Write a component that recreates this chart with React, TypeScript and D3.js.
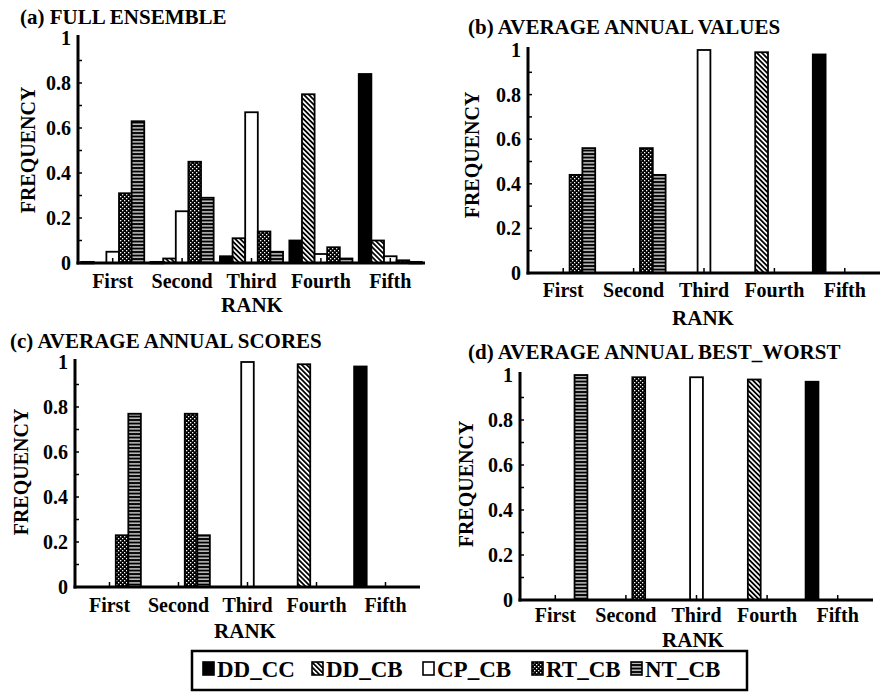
import React from "react";
import * as d3 from "d3";

// ---------- data ----------
const ranks = ["First", "Second", "Third", "Fourth", "Fifth"];
const seriesNames = ["DD_CC", "DD_CB", "CP_CB", "RT_CB", "NT_CB"];
const yTicks = [0, 0.2, 0.4, 0.6, 0.8, 1];
const yTickLabels = ["0", "0.2", "0.4", "0.6", "0.8", "1"];

// (a) FULL ENSEMBLE
const fullDDCC = [0.005, 0.005, 0.03, 0.1, 0.84];
const fullDDCB = [0, 0.02, 0.11, 0.75, 0.1];
const fullCPCB = [0.05, 0.23, 0.67, 0.04, 0.03];
const fullRTCB = [0.31, 0.45, 0.14, 0.07, 0.012];
const fullNTCB = [0.63, 0.29, 0.05, 0.02, 0.005];

// (b) AVERAGE ANNUAL VALUES
const valDDCC = [0, 0, 0, 0, 0.98];
const valDDCB = [0, 0, 0, 0.99, 0];
const valCPCB = [0, 0, 1.0, 0, 0];
const valRTCB = [0.44, 0.56, 0, 0, 0];
const valNTCB = [0.56, 0.44, 0, 0, 0];

// (c) AVERAGE ANNUAL SCORES
const scoDDCC = [0, 0, 0, 0, 0.98];
const scoDDCB = [0, 0, 0, 0.99, 0];
const scoCPCB = [0, 0, 1.0, 0, 0];
const scoRTCB = [0.23, 0.77, 0, 0, 0];
const scoNTCB = [0.77, 0.23, 0, 0, 0];

// (d) AVERAGE ANNUAL BEST_WORST
const bwDDCC = [0, 0, 0, 0, 0.97];
const bwDDCB = [0, 0, 0, 0.98, 0];
const bwCPCB = [0, 0, 0.99, 0, 0];
const bwRTCB = [0, 0.99, 0, 0, 0];
const bwNTCB = [1.0, 0, 0, 0, 0];

const titles = [
  "(a) FULL ENSEMBLE",
  "(b) AVERAGE ANNUAL VALUES",
  "(c) AVERAGE ANNUAL SCORES",
  "(d) AVERAGE ANNUAL BEST_WORST",
];

const panelData = [
  [fullDDCC, fullDDCB, fullCPCB, fullRTCB, fullNTCB],
  [valDDCC, valDDCB, valCPCB, valRTCB, valNTCB],
  [scoDDCC, scoDDCB, scoCPCB, scoRTCB, scoNTCB],
  [bwDDCC, bwDDCB, bwCPCB, bwRTCB, bwNTCB],
];

// ---------- layout ----------
const W = 884;
const H = 692;
const FONT = "'Liberation Serif', 'Times New Roman', serif";

const layouts = [
  { x0: 78, x1: 425, y0: 263, y1: 38, tx: 20, ty: 24, ly: 288, rx: 252, ry: 312, fx: 35, fy: 150 },
  { x0: 528, x1: 880, y0: 273, y1: 50, tx: 468, ty: 34, ly: 297, rx: 703, ry: 325, fx: 479, fy: 155 },
  { x0: 75, x1: 420, y0: 587, y1: 362, tx: 10, ty: 348, ly: 612, rx: 245, ry: 638, fx: 28, fy: 472 },
  { x0: 520, x1: 873, y0: 600, y1: 375, tx: 468, ty: 359, ly: 622, rx: 693, ry: 647, fx: 473, fy: 484 },
];

const fills = ["#000", "url(#hatch)", "#fff", "url(#dots)", "url(#hlines)"];

function Panel({ idx }: { idx: number }) {
  const L = layouts[idx];
  const data = panelData[idx];
  const x = d3.scaleBand<string>().domain(ranks).range([L.x0, L.x1]).padding(0);
  const y = d3.scaleLinear().domain([0, 1]).range([L.y0, L.y1]);
  const inner = d3
    .scaleBand<string>()
    .domain(seriesNames)
    .range([0, x.bandwidth()])
    .paddingOuter(0.25)
    .paddingInner(0);
  const minor = d3.range(1, 10).map((i) => i / 10);
  return (
    <g>
      <text x={L.tx} y={L.ty} fontSize={21} fontWeight="bold" fontFamily={FONT}>
        {titles[idx]}
      </text>
      {/* bars */}
      {seriesNames.map((s, j) =>
        ranks.map((r, i) => {
          const v = data[j][i];
          if (!v) return null;
          const bx = (x(r) as number) + (inner(s) as number);
          const h = y(0) - y(v);
          return (
            <rect
              key={s + r}
              x={bx}
              y={y(v)}
              width={inner.bandwidth()}
              height={Math.max(h, 1.5)}
              fill={fills[j]}
              stroke="#000"
              strokeWidth={1.8}
            />
          );
        })
      )}
      {/* axes */}
      <line x1={L.x0} x2={L.x0} y1={y(1) - 3} y2={y(0) + 1.5} stroke="#000" strokeWidth={3} />
      <line x1={L.x0 - 1.5} x2={L.x1} y1={y(0)} y2={y(0)} stroke="#000" strokeWidth={3} />
      {minor.map((t) => (
        <line key={t} x1={L.x0} x2={L.x0 + 4} y1={y(t)} y2={y(t)} stroke="#000" strokeWidth={1.5} />
      ))}
      {ranks.map((r) => {
        const cx = (x(r) as number) + x.bandwidth() / 2;
        return (
          <g key={r}>
            <line x1={cx} x2={cx} y1={y(0)} y2={y(0) - 5} stroke="#000" strokeWidth={1.5} />
            <text x={cx} y={L.ly} textAnchor="middle" fontSize={20} fontWeight="bold" fontFamily={FONT}>
              {r}
            </text>
          </g>
        );
      })}
      {yTicks.map((t, k) => (
        <text
          key={t}
          x={L.x0 - 7}
          y={y(t)}
          dy="0.35em"
          textAnchor="end"
          fontSize={20}
          fontWeight="bold"
          fontFamily={FONT}
        >
          {yTickLabels[k]}
        </text>
      ))}
      <text x={L.rx} y={L.ry} textAnchor="middle" fontSize={21} fontWeight="bold" fontFamily={FONT}>
        RANK
      </text>
      <text
        transform={`translate(${L.fx},${L.fy}) rotate(-90)`}
        textAnchor="middle"
        fontSize={20}
        fontWeight="bold"
        fontFamily={FONT}
      >
        FREQUENCY
      </text>
    </g>
  );
}

const legendSwatchX = [203, 312, 423, 532, 631];
const legendTextX = [217, 326, 437, 546, 645];

export default function App() {
  return (
    <svg
      width={W}
      height={H}
      viewBox={`0 0 ${W} ${H}`}
      style={{ position: "absolute", left: 0, top: 0, background: "#fff", display: "block" }}
    >
      <defs>
        <pattern id="hatch" patternUnits="userSpaceOnUse" width={3.5} height={3.5} patternTransform="rotate(-45)">
          <rect width={3.5} height={3.5} fill="#fff" />
          <rect width={1.8} height={3.5} fill="#000" />
        </pattern>
        <pattern id="dots" patternUnits="userSpaceOnUse" width={4} height={4}>
          <rect width={4} height={4} fill="#000" />
          <rect x={0} y={0} width={1.3} height={1.3} fill="#fff" />
          <rect x={2} y={2} width={1.3} height={1.3} fill="#fff" />
        </pattern>
        <pattern id="hlines" patternUnits="userSpaceOnUse" width={4} height={3.5}>
          <rect width={4} height={3.5} fill="#000" />
          <rect x={0} y={1.2} width={4} height={1.2} fill="#fff" />
        </pattern>
      </defs>
      <rect width={W} height={H} fill="#fff" />
      {layouts.map((_, i) => (
        <Panel key={i} idx={i} />
      ))}
      {/* legend */}
      <rect x={192} y={651} width={555} height={39} fill="#fff" stroke="#000" strokeWidth={2.5} />
      {seriesNames.map((s, j) => (
        <g key={s}>
          <rect
            x={legendSwatchX[j]}
            y={662}
            width={11}
            height={13}
            fill={fills[j]}
            stroke="#000"
            strokeWidth={1.6}
          />
          <text x={legendTextX[j]} y={677} fontSize={23} fontWeight="bold" fontFamily={FONT}>
            {s}
          </text>
        </g>
      ))}
    </svg>
  );
}
